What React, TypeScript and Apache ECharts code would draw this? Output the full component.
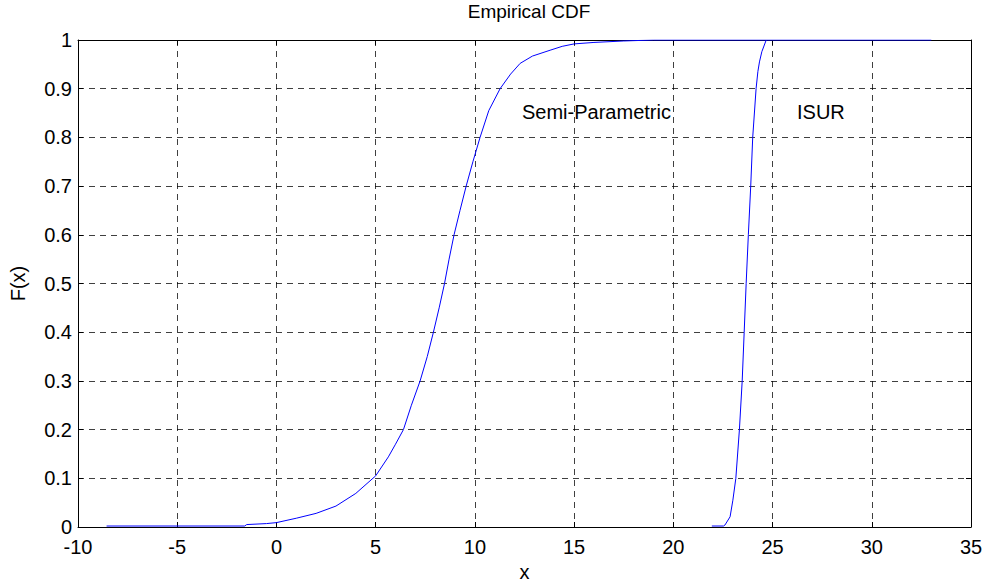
import React, { useEffect, useRef } from "react";
import * as echarts from "echarts";

const semiX = [-8.56, -1.6, -1.5, -0.5, 0, 1, 2, 3, 4, 5, 5.64, 6.0, 6.4, 6.8, 7.24, 7.6, 7.91, 8.2, 8.47, 8.7, 8.95, 9.25, 9.56, 9.9, 10.26, 10.7, 11.27, 11.8, 12.28, 12.9, 13.79, 14.4, 15.0, 16.0, 17.5, 19.0, 33.0];
const semiF = [0.002, 0.002, 0.005, 0.007, 0.009, 0.018, 0.028, 0.043, 0.069, 0.105, 0.144, 0.17, 0.2, 0.25, 0.3, 0.35, 0.4, 0.45, 0.5, 0.55, 0.6, 0.65, 0.7, 0.75, 0.8, 0.855, 0.9, 0.93, 0.952, 0.967, 0.979, 0.987, 0.992, 0.995, 0.998, 1.0, 1.0];

const isurX = [21.94, 22.53, 22.6, 22.86, 23.0, 23.15, 23.33, 23.47, 23.57, 23.67, 23.78, 23.9, 24.0, 24.17, 24.26, 24.34, 24.46, 24.68];
const isurF = [0.002, 0.002, 0.004, 0.021, 0.055, 0.1, 0.2, 0.3, 0.4, 0.5, 0.6, 0.7, 0.8, 0.9, 0.935, 0.955, 0.976, 1.0];

const xTicks = { min: -10, max: 35, interval: 5 };
const yTicks = { min: 0, max: 1, interval: 0.1 };

const FONT = "Liberation Sans, Arial, sans-serif";

export default function App() {
  const ref = useRef<HTMLDivElement>(null);
  useEffect(() => {
    if (!ref.current) return;
    const chart = echarts.init(ref.current, undefined, { renderer: "svg" });
    const gridLine = { show: true, lineStyle: { color: "#000", type: [6, 5] as any, width: 1, opacity: 0.75 } };
    const hiddenAxis = {
      axisLine: { show: true, onZero: false, lineStyle: { color: "#000" } },
      axisTick: { show: true, inside: true, length: 5, lineStyle: { color: "#000" } },
      axisLabel: { show: false },
      splitLine: { show: false },
    };
    chart.setOption({
      animation: false,
      backgroundColor: "#fff",
      title: {
        text: "Empirical CDF",
        left: 524,
        textAlign: "center",
        top: -3,
        textStyle: { fontFamily: FONT, fontSize: 19, fontWeight: "normal", color: "#000" },
      },
      grid: { left: 78, top: 40, right: 15, bottom: 55, show: false, containLabel: false, outerBoundsMode: "none" },
      xAxis: [
        {
          type: "value",
          ...xTicks,
          name: "x",
          nameLocation: "middle",
          nameGap: 34,
          nameTextStyle: { fontFamily: FONT, fontSize: 20, color: "#000" },
          axisLine: { show: true, onZero: false, lineStyle: { color: "#000" } },
          axisTick: { show: true, inside: true, length: 5, lineStyle: { color: "#000" } },
          axisLabel: { fontFamily: FONT, fontSize: 20, color: "#000", margin: 10 },
          splitLine: gridLine,
        },
        { type: "value", position: "top", ...xTicks, ...hiddenAxis },
      ],
      yAxis: [
        {
          type: "value",
          ...yTicks,
          name: "F(x)",
          nameLocation: "middle",
          nameGap: 50,
          nameTextStyle: { fontFamily: FONT, fontSize: 20, color: "#000" },
          axisLine: { show: true, onZero: false, lineStyle: { color: "#000" } },
          axisTick: { show: true, inside: true, length: 5, lineStyle: { color: "#000" } },
          axisLabel: { fontFamily: FONT, fontSize: 20, color: "#000", margin: 6 },
          splitLine: gridLine,
        },
        { type: "value", position: "right", ...yTicks, ...hiddenAxis },
      ],
      series: [
        {
          name: "Semi-Parametric",
          type: "line",
          data: semiX.map((x, i) => [x, semiF[i]]),
          showSymbol: false,
          lineStyle: { color: "#0000ff", width: 1 },
          z: 5,
        },
        {
          name: "ISUR",
          type: "line",
          data: isurX.map((x, i) => [x, isurF[i]]),
          showSymbol: false,
          lineStyle: { color: "#0000ff", width: 1 },
          z: 5,
        },
      ],
      graphic: [
        {
          type: "text",
          left: 522,
          top: 102,
          style: { text: "Semi-Parametric", fontFamily: FONT, fontSize: 20, fill: "#000" },
        },
        {
          type: "text",
          left: 797,
          top: 102,
          style: { text: "ISUR", fontFamily: FONT, fontSize: 20, fill: "#000" },
        },
      ],
    });
    return () => chart.dispose();
  }, []);
  return (
    <div style={{ position: "fixed", left: 0, top: 0, width: 986, height: 582, overflow: "hidden" }}>
      <div ref={ref} style={{ width: 986, height: 582 }} />
    </div>
  );
}
